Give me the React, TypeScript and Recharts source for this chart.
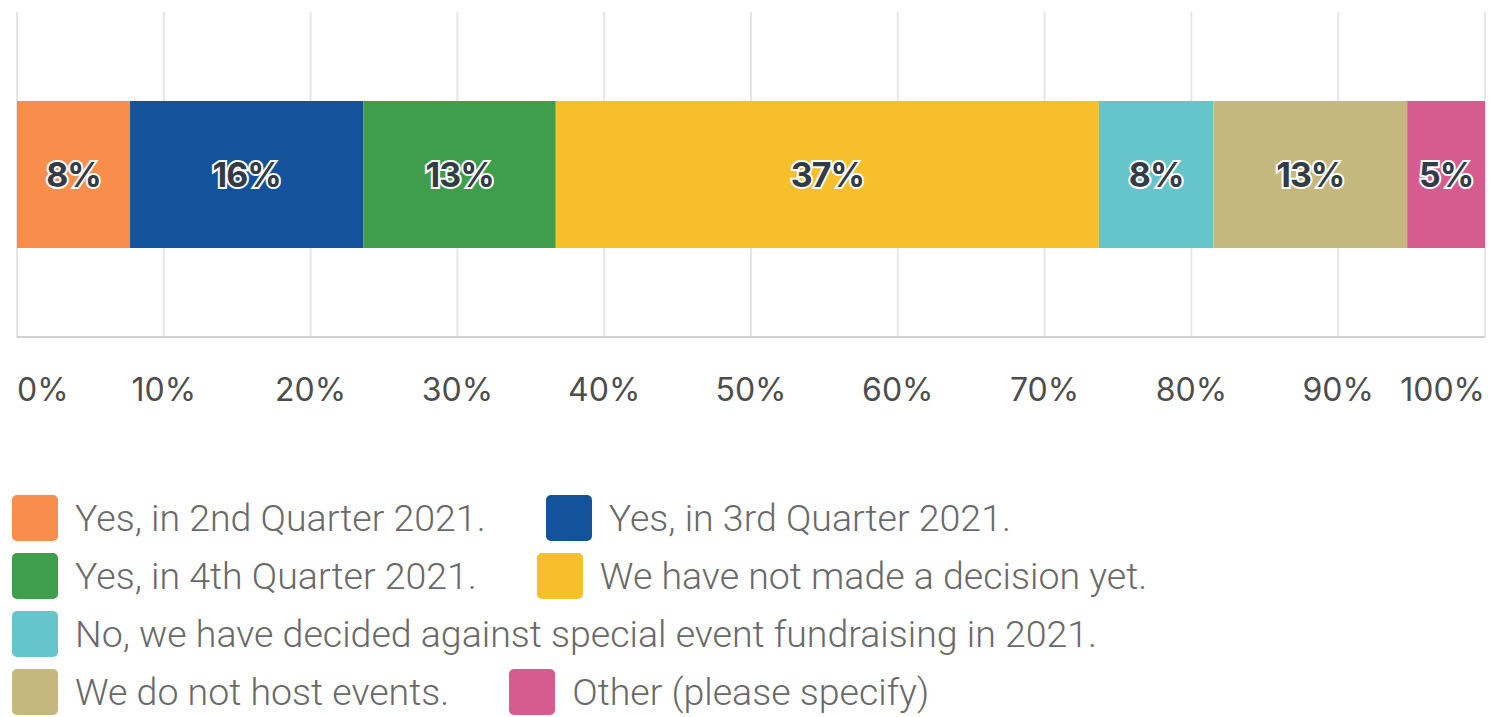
import { BarChart, Bar, XAxis, YAxis, CartesianGrid, LabelList } from "recharts";

// survey answers, left to right along the stacked bar
const answers = [
  "Yes, in 2nd Quarter 2021.",
  "Yes, in 3rd Quarter 2021.",
  "Yes, in 4th Quarter 2021.",
  "We have not made a decision yet.",
  "No, we have decided against special event fundraising in 2021.",
  "We do not host events.",
  "Other (please specify)",
];
const shares = [7.7, 15.9, 13.1, 37.0, 7.8, 13.2, 5.3];
const colors = ["#F98D4B", "#13539B", "#3F9E4B", "#F8BF2D", "#66C5CB", "#C5B87E", "#D65B8F"];
const tickValues = [0, 10, 20, 30, 40, 50, 60, 70, 80, 90, 100];

const keys = answers.map((_, i) => `a${i}`);
const row: Record<string, any> = { name: "all" };
keys.forEach((k, i) => {
  row[k] = shares[i];
});
const data = [row];

const PctTick = (props: any) => {
  const { x, y, payload } = props;
  const v = payload.value;
  const anchor = v === 0 ? "start" : v === 100 ? "end" : "middle";
  return (
    <text
      x={x}
      y={y}
      dy={56}
      textAnchor={anchor}
      fill="#4d4d4d"
      fontSize={32}
      fontFamily="Inter, sans-serif"
    >
      {v}%
    </text>
  );
};

const SegLabel = (props: any) => {
  const { x, y, width, height, value } = props;
  return (
    <text
      x={x + width / 2}
      y={y + height / 2}
      textAnchor="middle"
      dominantBaseline="central"
      fill="#333c45"
      stroke="#fff"
      strokeWidth={4}
      paintOrder="stroke"
      fontSize={34}
      fontWeight={700}
      letterSpacing={-1}
      fontFamily="Inter, sans-serif"
    >
      {Math.round(value)}%
    </text>
  );
};

export default function App() {
  return (
    <div style={{ position: "absolute", left: 0, top: 0, width: 1492, height: 717, background: "#fff" }}>
      <BarChart
        width={1492}
        height={430}
        data={data}
        layout="vertical"
        margin={{ top: 12, right: 7, bottom: 33, left: 17 }}
      >
        <CartesianGrid horizontal={false} stroke="#e6e6e6" strokeWidth={2} />
        <XAxis
          type="number"
          domain={[0, 100]}
          ticks={tickValues}
          interval={0}
          tickLine={false}
          axisLine={{ stroke: "#d0d0d0", strokeWidth: 2 }}
          tick={<PctTick />}
          height={60}
        />
        <YAxis
          type="category"
          dataKey="name"
          width={0}
          tick={false}
          tickLine={false}
          axisLine={{ stroke: "#c4c4c4", strokeWidth: 2 }}
        />
        {keys.map((k, i) => (
          <Bar key={k} dataKey={k} stackId="s" fill={colors[i]} barSize={147} isAnimationActive={false}>
            <LabelList dataKey={k} content={<SegLabel />} />
          </Bar>
        ))}
      </BarChart>
      <div
        style={{
          position: "absolute",
          left: 12,
          top: 495,
          width: 1470,
          display: "flex",
          flexWrap: "wrap",
          columnGap: 60,
          rowGap: 12,
        }}
      >
        {answers.map((a, i) => (
          <div key={a} style={{ display: "flex", alignItems: "center", height: 46 }}>
            <div style={{ width: 46, height: 46, borderRadius: 5, background: colors[i] }} />
            <span
              style={{
                marginLeft: 17,
                fontFamily: "Roboto, sans-serif",
                fontWeight: 300,
                fontSize: 37.5,
                color: "#696969",
                whiteSpace: "nowrap",
              }}
            >
              {a}
            </span>
          </div>
        ))}
      </div>
    </div>
  );
}
